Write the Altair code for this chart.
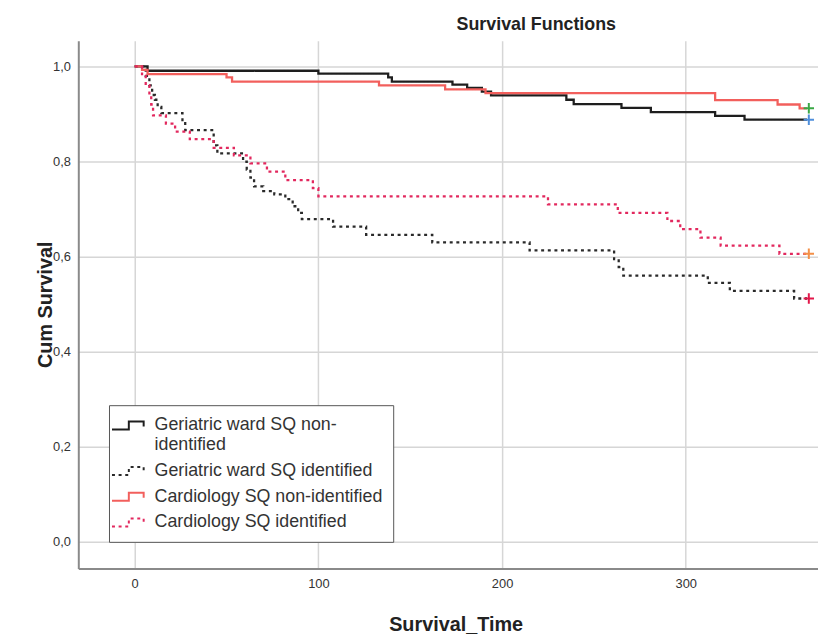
import altair as alt
import pandas as pd

# ---- data (Kaplan-Meier step curves) ----
groups = [
    "Geriatric ward SQ non-identified",
    "Geriatric ward SQ identified",
    "Cardiology SQ non-identified",
    "Cardiology SQ identified",
]

geri_non_t = [0, 7, 100, 138, 140, 173, 181, 189, 194, 235, 239, 265, 281, 316, 332, 366]
geri_non_s = [1.0, 0.991, 0.985, 0.977, 0.968, 0.962, 0.955, 0.947, 0.939, 0.930, 0.921,
              0.913, 0.904, 0.896, 0.888, 0.888]

geri_id_t = [0, 6, 8, 9.5, 11, 12.5, 14.5, 26, 27.5, 43, 45, 59, 61, 63, 65, 70, 76, 82,
             86, 89, 91, 108, 126, 162, 215, 261, 263.5, 266, 312, 324, 359, 366]
geri_id_s = [1.0, 0.98, 0.96, 0.94, 0.93, 0.915, 0.902, 0.884, 0.866, 0.834, 0.817, 0.80,
             0.783, 0.766, 0.748, 0.738, 0.731, 0.721, 0.706, 0.692, 0.679, 0.663, 0.646,
             0.630, 0.613, 0.595, 0.578, 0.560, 0.545, 0.528, 0.512, 0.512]

card_non_t = [0, 4, 7, 50, 53, 133, 169, 191, 316, 350, 362, 366]
card_non_s = [1.0, 0.993, 0.984, 0.977, 0.968, 0.960, 0.952, 0.944, 0.929, 0.920, 0.912, 0.912]

card_id_t = [0, 4, 6, 8, 9, 10, 17, 22, 30, 43, 54, 63, 72, 82, 97, 100, 225, 263, 290,
             297, 308, 319, 351, 366]
card_id_s = [1.0, 0.98, 0.96, 0.94, 0.92, 0.897, 0.88, 0.863, 0.847, 0.829, 0.813, 0.796,
             0.779, 0.761, 0.744, 0.727, 0.710, 0.692, 0.675, 0.658, 0.640, 0.623, 0.606, 0.606]

# censoring markers at the end of each curve
censor_groups = groups
censor_t = [367, 367, 367, 367]
censor_s = [0.888, 0.512, 0.912, 0.606]
censor_colors = ["#4f8fdc", "#e3174a", "#3aa845", "#f39048"]

line_colors = ["#1e1e1e", "#2a2a2a", "#f25f5c", "#e2285e"]
line_dashes = [[1, 0], [3, 3.7], [1, 0], [3, 3.7]]
y_ticks = [0.0, 0.2, 0.4, 0.6, 0.8, 1.0]
x_ticks = [0, 100, 200, 300]

rows = []
for g, ts, ss in zip(groups, [geri_non_t, geri_id_t, card_non_t, card_id_t],
                     [geri_non_s, geri_id_s, card_non_s, card_id_s]):
    for t, s in zip(ts, ss):
        rows.append({"group": g, "t": t, "s": s})
df = pd.DataFrame(rows)

cens = pd.DataFrame({"group": censor_groups, "t": censor_t, "s": censor_s, "col": censor_colors})

FONT = "Liberation Sans"

xscale = alt.Scale(domain=[-30.7, 372], nice=False, zero=False)
yscale = alt.Scale(domain=[-0.056, 1.054], nice=False, zero=False)

step_icon = "M-2,0.43H-0.16V-0.43H1.46V0.1"


def make_legend():
    return alt.Legend(
        title=None, orient="none", legendX=31, legendY=368,
        strokeColor="#555555", fillColor="white", padding=10,
        labelFont=FONT, labelFontSize=18, labelColor="#333333", labelLimit=400,
        labelExpr="datum.label == 'Geriatric ward SQ non-identified' ? "
                  "['Geriatric ward SQ non-', 'identified'] : datum.label",
        symbolType=step_icon, symbolSize=342, symbolStrokeWidth=2,
        symbolOffset=1, labelOffset=14, rowPadding=6,
        symbolFillColor="transparent",
    )


lines = alt.Chart(df).mark_line(interpolate="step-after", strokeWidth=2.3).encode(
    x=alt.X("t:Q", scale=xscale,
            axis=alt.Axis(values=x_ticks, title="Survival_Time", format="d",
                          titleX=381, titleY=63, titleBaseline="alphabetic")),
    y=alt.Y("s:Q", scale=yscale,
            axis=alt.Axis(values=y_ticks, title="Cum Survival",
                          labelExpr="replace(format(datum.value, '.1f'), '.', ',')",
                          titleX=-27, titleY=266, titleAngle=270,
                          titleBaseline="alphabetic", titleAlign="center")),
    color=alt.Color("group:N", sort=groups,
                    scale=alt.Scale(domain=groups, range=line_colors),
                    legend=make_legend()),
    strokeDash=alt.StrokeDash("group:N", sort=groups,
                              scale=alt.Scale(domain=groups, range=line_dashes),
                              legend=make_legend()),
)

marks = alt.Chart(cens).mark_point(shape="M-1,0H1M0,-1V1", filled=False, size=110,
                                   strokeWidth=2, opacity=1).encode(
    x=alt.X("t:Q", scale=xscale),
    y=alt.Y("s:Q", scale=yscale),
    stroke=alt.Stroke("col:N", scale=None),
)

chart = alt.layer(lines, marks).properties(
    width=747, height=533,
    autosize=alt.AutoSizeParams(type="none"),
    padding={"left": 71, "top": 30, "right": 0, "bottom": 66},
    title=alt.TitleParams("Survival Functions", font=FONT, fontSize=18, fontWeight="bold",
                          color="#222222", anchor="middle", dx=89, offset=7),
).configure_view(stroke=None).configure_axis(
    labelFont=FONT, labelFontSize=13, labelColor="#333333",
    titleFont=FONT, titleFontSize=20, titleFontWeight="bold", titleColor="#222222",
    grid=True, gridColor="#d6d6d6", gridWidth=1.5,
    domainColor="#8a8a8a", domainWidth=2, ticks=False, labelPadding=9,
).configure_axisY(labelPadding=8)

chart.save("out.html", embed_options={"renderer": "svg", "actions": False})
